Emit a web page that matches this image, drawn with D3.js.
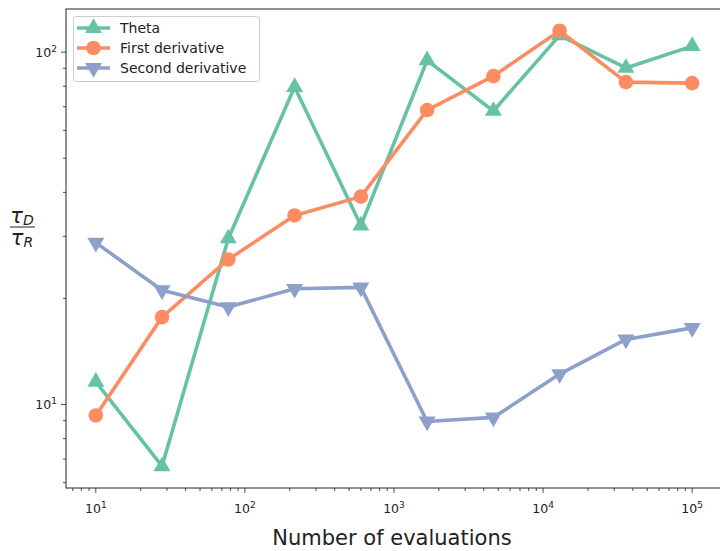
<!DOCTYPE html>
<html>
<head>
<meta charset="utf-8">
<script src="https://cdn.jsdelivr.net/npm/d3@7"></script>
<style>
  html, body { margin: 0; padding: 0; background: #fff; }
  svg { display: block; font-family: "DejaVu Sans", sans-serif; }
</style>
</head>
<body>
<svg id="chart" width="720" height="551"></svg>
<script>
// evaluations (logspace 10^1 .. 10^5, 10 points)
const evals = [10, 27.8, 77.4, 215.4, 599.5, 1668, 4642, 12915, 35938, 100000];
const theta = [11.6, 6.68, 29.6, 79.6, 32.2, 94.8, 68.1, 111.6, 90.2, 104];
const firstDeriv = [9.31, 17.7, 25.8, 34.4, 38.9, 68.5, 85.5, 115, 82.2, 81.7];
const secondDeriv = [28.8, 21.1, 18.9, 21.3, 21.5, 8.95, 9.19, 12.2, 15.3, 16.5];
const seriesNames = ['Theta', 'First derivative', 'Second derivative'];
const xTickExps = [1, 2, 3, 4, 5];
const yTickExps = [1, 2];

const series = [
  { name: seriesNames[0], values: theta, color: '#66c2a5', marker: 'up' },
  { name: seriesNames[1], values: firstDeriv, color: '#fc8d62', marker: 'circle' },
  { name: seriesNames[2], values: secondDeriv, color: '#8da0cb', marker: 'down' },
];

const svg = d3.select('#chart');
const L = 66, T = 9, R = 722, B = 488;

// matplotlib-like 5% margins in log space
function logDomain(vals) {
  const lo = Math.log10(d3.min(vals)), hi = Math.log10(d3.max(vals));
  const pad = (hi - lo) * 0.05;
  return [Math.pow(10, lo - pad), Math.pow(10, hi + pad)];
}
const allY = [].concat(theta, firstDeriv, secondDeriv);
const x = d3.scaleLog().domain(logDomain(evals)).range([L, R]);
const y = d3.scaleLog().domain(logDomain(allY)).range([B, T]);

const axisColor = '#222';

function minorTicks(scale) {
  const [a, b] = scale.domain();
  const out = [];
  for (let e = Math.floor(Math.log10(a)); e <= Math.ceil(Math.log10(b)); e++) {
    for (let m = 2; m <= 9; m++) {
      const v = m * Math.pow(10, e);
      if (v >= a && v <= b) out.push(v);
    }
  }
  return out;
}

const gAx = svg.append('g');
minorTicks(x).forEach((v) => {
  gAx.append('line').attr('x1', x(v)).attr('x2', x(v)).attr('y1', B).attr('y2', B + 3)
    .attr('stroke', axisColor).attr('stroke-width', 0.8);
});
minorTicks(y).forEach((v) => {
  gAx.append('line').attr('y1', y(v)).attr('y2', y(v)).attr('x1', L).attr('x2', L - 3)
    .attr('stroke', axisColor).attr('stroke-width', 0.8);
});
xTickExps.forEach((e) => {
  const px = x(Math.pow(10, e));
  gAx.append('line').attr('x1', px).attr('x2', px).attr('y1', B).attr('y2', B + 5)
    .attr('stroke', axisColor).attr('stroke-width', 0.8);
  const t = gAx.append('text').attr('x', px).attr('y', B + 25).attr('text-anchor', 'middle')
    .attr('font-size', 12.5).attr('fill', '#222');
  t.append('tspan').text('10');
  t.append('tspan').attr('dy', -5).attr('font-size', 9).text(e);
});
yTickExps.forEach((e) => {
  const py = y(Math.pow(10, e));
  gAx.append('line').attr('y1', py).attr('y2', py).attr('x1', L).attr('x2', L - 5)
    .attr('stroke', axisColor).attr('stroke-width', 0.8);
  const t = gAx.append('text').attr('x', L - 9).attr('y', py + 5).attr('text-anchor', 'end')
    .attr('font-size', 12.5).attr('fill', '#222');
  t.append('tspan').text('10');
  t.append('tspan').attr('dy', -5).attr('font-size', 9).text(e);
});

// series
const line = d3.line().x((d) => x(d[0])).y((d) => y(d[1]));
function drawMarker(g, kind, cx, cy, color) {
  if (kind === 'circle') {
    g.append('circle').attr('cx', cx).attr('cy', cy).attr('r', 7.3).attr('fill', color);
  } else {
    const sym = d3.symbol().type(d3.symbolTriangle).size(125)();
    g.append('path').attr('d', sym)
      .attr('transform', `translate(${cx},${cy})${kind === 'down' ? ' rotate(180)' : ''}`)
      .attr('fill', color);
  }
}
const gPlot = svg.append('g');
series.forEach((s) => {
  const pts = evals.map((e, i) => [e, s.values[i]]);
  gPlot.append('path').datum(pts).attr('d', line).attr('fill', 'none')
    .attr('stroke', s.color).attr('stroke-width', 3.6).attr('stroke-linejoin', 'round');
  pts.forEach((p) => drawMarker(gPlot, s.marker, x(p[0]), y(p[1]), s.color));
});

// spines
svg.append('rect').attr('x', L).attr('y', T).attr('width', R - L).attr('height', B - T)
  .attr('fill', 'none').attr('stroke', axisColor).attr('stroke-width', 1);

// legend
const lg = svg.append('g');
lg.append('rect').attr('x', 73.5).attr('y', 16.5).attr('width', 186).attr('height', 65).attr('rx', 3)
  .attr('fill', 'rgba(255,255,255,0.8)').attr('stroke', '#ccc').attr('stroke-width', 1);
series.forEach((s, i) => {
  const cy = 28 + i * 20;
  lg.append('line').attr('x1', 77).attr('x2', 110).attr('y1', cy).attr('y2', cy)
    .attr('stroke', s.color).attr('stroke-width', 3.6);
  drawMarker(lg, s.marker, 93.5, cy, s.color);
  lg.append('text').attr('x', 120).attr('y', cy + 5).attr('font-size', 14).attr('fill', '#222').text(s.name);
});

// axis labels
svg.append('text').attr('x', 392).attr('y', 545).attr('text-anchor', 'middle')
  .attr('font-size', 21).attr('fill', '#222').text('Number of evaluations');

const yl = svg.append('g').attr('transform', 'translate(22,227)');
const num = yl.append('text').attr('x', 0).attr('y', -4).attr('text-anchor', 'middle')
  .attr('font-size', 21).attr('font-style', 'italic').attr('fill', '#222');
num.append('tspan').text('τ');
num.append('tspan').attr('font-size', 14).attr('dy', 2).text('D');
yl.append('line').attr('x1', -12).attr('x2', 13).attr('y1', 0).attr('y2', 0).attr('stroke', '#222').attr('stroke-width', 1);
const den = yl.append('text').attr('x', 0).attr('y', 18).attr('text-anchor', 'middle')
  .attr('font-size', 21).attr('font-style', 'italic').attr('fill', '#222');
den.append('tspan').text('τ');
den.append('tspan').attr('font-size', 14).attr('dy', 2).text('R');
</script>
</body>
</html>
